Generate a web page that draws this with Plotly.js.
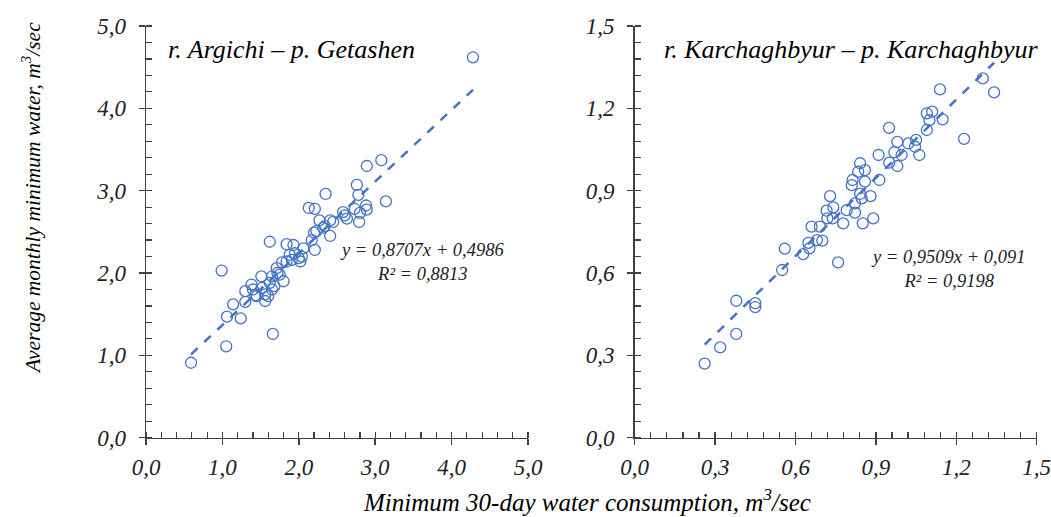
<!DOCTYPE html>
<html>
<head>
<meta charset="utf-8">
<script src="https://cdn.plot.ly/plotly-3.0.1.min.js"></script>
<style>html,body{margin:0;padding:0;background:#fff;}#chart{width:1051px;height:517px;}</style>
</head>
<body>
<div id="chart"></div>
<script>
// Left panel: r. Argichi – p. Getashen
const argichiX = [0.59,1.05,1.66,0.99,1.06,1.24,1.14,1.30,1.30,1.38,1.43,1.40,1.51,1.56,1.56,1.52,1.65,1.62,1.68,1.65,1.60,1.72,1.80,1.75,1.71,1.78,1.84,1.91,1.95,2.00,2.04,2.06,2.02,2.21,2.17,2.23,2.41,2.34,2.32,2.20,1.62,1.84,1.93,2.27,2.41,2.45,2.13,2.21,2.35,2.58,2.63,2.73,2.80,2.79,2.88,2.89,2.78,2.76,2.89,3.08,3.14,4.28,2.60,1.88,1.45];
const argichiY = [0.91,1.11,1.26,2.03,1.47,1.45,1.62,1.65,1.78,1.86,1.73,1.80,1.96,1.74,1.66,1.82,1.80,1.88,1.84,1.96,1.72,2.00,1.90,1.98,2.06,2.13,2.14,2.16,2.24,2.18,2.20,2.30,2.14,2.28,2.40,2.51,2.45,2.57,2.55,2.49,2.38,2.35,2.34,2.64,2.64,2.62,2.79,2.78,2.96,2.74,2.66,2.78,2.73,2.62,2.82,2.77,2.95,3.07,3.30,3.37,2.87,4.62,2.70,2.22,1.72];
const argichiSlope = 0.8707, argichiIntercept = 0.4986, argichiR2 = 0.8813;

// Right panel: r. Karchaghbyur – p. Karchaghbyur
const karchX = [0.261,0.319,0.379,0.379,0.450,0.450,0.550,0.560,0.759,0.629,0.652,0.648,0.700,0.680,0.660,0.691,0.729,0.716,0.741,0.719,0.739,0.778,0.791,0.822,0.822,0.851,0.890,0.810,0.813,0.841,0.847,0.880,0.834,0.859,0.841,0.859,0.913,0.950,0.980,0.910,0.969,0.996,0.980,1.021,1.050,1.046,1.062,0.949,1.090,1.090,1.110,1.100,1.149,1.229,1.139,1.299,1.341];
const karchY = [0.270,0.329,0.378,0.499,0.490,0.476,0.611,0.689,0.639,0.669,0.690,0.710,0.718,0.720,0.769,0.769,0.880,0.827,0.839,0.799,0.799,0.781,0.829,0.820,0.854,0.781,0.799,0.920,0.939,0.888,0.872,0.880,0.969,0.975,1.000,0.933,0.939,1.002,0.990,1.030,1.040,1.030,1.078,1.072,1.085,1.060,1.030,1.129,1.121,1.182,1.188,1.157,1.160,1.089,1.269,1.309,1.258];
const karchSlope = 0.9509, karchIntercept = 0.091, karchR2 = 0.9198;

const titles = ["r. Argichi – p. Getashen", "r. Karchaghbyur – p. Karchaghbyur"];
const xTitle = "Minimum 30-day water consumption, m<sup>3</sup>/sec";
const yTitle = "Average monthly minimum water, m<sup>3</sup>/sec";

const blue = "#4472C4";
const serif = "Liberation Serif";
const axisColor = "#404040";

function trend(xs, a, b) {
  const lo = Math.min(...xs), hi = Math.max(...xs);
  return {x: [lo, hi], y: [a*lo + b, a*hi + b]};
}
function fmt(v, d) { return v.toFixed(d).replace('.', ','); }

const t1 = trend(argichiX, argichiSlope, argichiIntercept);
const t2 = trend(karchX, karchSlope, karchIntercept);

const marker = {symbol: "circle-open", size: 11, color: blue, line: {width: 1.3, color: blue}};
const data = [
  {x: argichiX, y: argichiY, type: "scatter", mode: "markers", marker: marker, xaxis: "x", yaxis: "y"},
  {x: t1.x, y: t1.y, type: "scatter", mode: "lines", line: {color: blue, width: 2.5, dash: "dash"}, xaxis: "x", yaxis: "y"},
  {x: karchX, y: karchY, type: "scatter", mode: "markers", marker: marker, xaxis: "x2", yaxis: "y2"},
  {x: t2.x, y: t2.y, type: "scatter", mode: "lines", line: {color: blue, width: 2.5, dash: "dash"}, xaxis: "x2", yaxis: "y2"}
];

const W = 1051, H = 517;
const px = v => v / W, py = v => 1 - v / H;
const tickfont = {family: serif, size: 23, color: "#222", style: "italic"};
function axis(range, dtick, minorDtick, domain, anchor, standoff) {
  return {
    range: range, domain: domain, anchor: anchor, dtick: dtick, tick0: 0, tickformat: ".1f",
    showline: true, linecolor: axisColor, linewidth: 1.5, showgrid: false, zeroline: false,
    ticks: "outside", ticklen: 6, tickwidth: 1.5, tickcolor: axisColor,
    minor: {dtick: minorDtick, tick0: 0, ticks: "inside", ticklen: 6, tickwidth: 1.2, tickcolor: axisColor, showgrid: false},
    tickfont: tickfont, ticklabelstandoff: standoff, ticklabeloverflow: "allow", fixedrange: true
  };
}
// inner half of the crossing major ticks
function innerTicks(range, dtick, over, anchor, side) {
  return {
    overlaying: over, anchor: anchor, side: side, range: range, dtick: dtick, tick0: 0,
    showline: false, showgrid: false, zeroline: false, showticklabels: false,
    ticks: "inside", ticklen: 6, tickwidth: 1.5, tickcolor: axisColor, fixedrange: true
  };
}
const yDom = [py(437.7), py(26)];
const layout = {
  width: W, height: H, margin: {l: 0, r: 0, t: 0, b: 0},
  paper_bgcolor: "#fff", plot_bgcolor: "rgba(0,0,0,0)", showlegend: false,
  separators: ", ",
  font: {family: serif},
  xaxis: axis([0, 5], 1, 0.2, [px(146), px(528)], "y", 2),
  yaxis: axis([0, 5], 1, 0.2, yDom, "x", 8),
  xaxis2: axis([0, 1.5], 0.3, 0.06, [px(634.7), px(1036.7)], "y2", 2),
  yaxis2: axis([0, 1.5], 0.3, 0.06, yDom, "x2", 8),
  xaxis3: innerTicks([0, 5], 1, "x", "y", "bottom"),
  yaxis3: innerTicks([0, 5], 1, "y", "x", "left"),
  xaxis4: innerTicks([0, 1.5], 0.3, "x2", "y2", "bottom"),
  yaxis4: innerTicks([0, 1.5], 0.3, "y2", "x2", "left"),
  annotations: [
    {xref: "paper", yref: "paper", x: px(166), y: py(49), xanchor: "left", yanchor: "middle", showarrow: false,
     text: titles[0], font: {family: serif, size: 26, color: "#000", style: "italic"}},
    {xref: "paper", yref: "paper", x: px(662), y: py(49), xanchor: "left", yanchor: "middle", showarrow: false,
     text: titles[1], font: {family: serif, size: 26, color: "#000", style: "italic"}},
    {xref: "paper", yref: "paper", x: px(422), y: py(262), xanchor: "center", yanchor: "middle", showarrow: false, align: "center",
     text: "y = " + fmt(argichiSlope, 4) + "x + " + fmt(argichiIntercept, 4) + "<br>R² = " + fmt(argichiR2, 4),
     font: {family: serif, size: 18.5, color: "#222", style: "italic"}},
    {xref: "paper", yref: "paper", x: px(948), y: py(269), xanchor: "center", yanchor: "middle", showarrow: false, align: "center",
     text: "y = " + fmt(karchSlope, 4) + "x + " + fmt(karchIntercept, 3) + "<br>R² = " + fmt(karchR2, 4),
     font: {family: serif, size: 18.5, color: "#222", style: "italic"}},
    {xref: "paper", yref: "paper", x: px(587), y: py(500), xanchor: "center", yanchor: "middle", showarrow: false,
     text: xTitle, font: {family: serif, size: 25, color: "#000", style: "italic"}},
    {xref: "paper", yref: "paper", x: px(31), y: py(198), xanchor: "center", yanchor: "middle", showarrow: false, textangle: -90,
     text: yTitle, font: {family: serif, size: 21.5, color: "#000", style: "italic"}}
  ]
};
Plotly.newPlot("chart", data, layout, {displayModeBar: false, staticPlot: true});
</script>
</body>
</html>
